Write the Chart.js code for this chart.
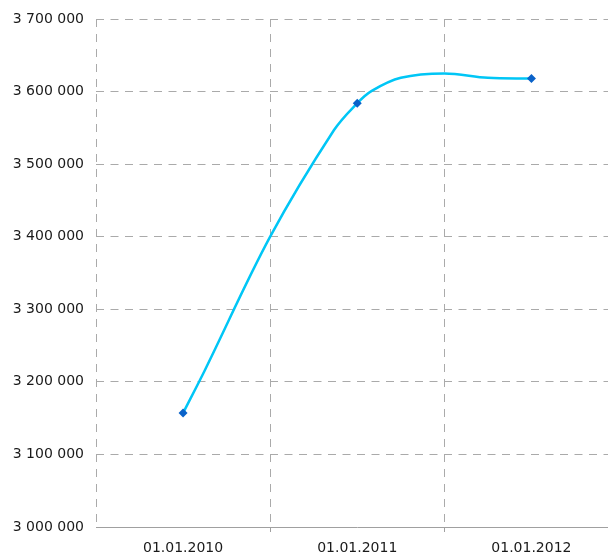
<!DOCTYPE html>
<html>
<head>
<meta charset="utf-8">
<script src="https://cdn.jsdelivr.net/npm/chart.js@4.4.0/dist/chart.umd.min.js"></script>
<style>
    html, body { margin: 0; padding: 0; background: #fff; overflow: hidden; }
    #wrap { width: 608px; height: 553px; overflow: hidden; }
</style>
</head>
<body>
<div id="wrap"><canvas id="chart" width="623" height="553"></canvas></div>
<script>
'use strict';

// Year markers (months counted from 01.01.2010)
const yearLabels = ['01.01.2010', '01.01.2011', '01.01.2012'];
const yearMonths = [0, 12, 24];
const yearValues = [3157000, 3584000, 3618000];

// Smoothed curve at its turning points
const curveMonths = [0, 1.5, 6, 10.4, 12, 13, 15, 18, 21, 24];
const curveValues = [3157000, 3216000, 3400000, 3547000, 3584000,
    3601000, 3619000, 3625000, 3619000, 3618000];

// Axis ticks
const xTickValues = [-6, 0, 6, 12, 18, 24, 30];
const yMin = 3000000;
const yMax = 3700000;
const yStep = 100000;

const gridColor = '#aaaaaa';
const textColor = '#1a1a1a';

function isBoundary(v) {
    return (v + 6) % 12 === 0;
}

function formatNumber(v) {
    return String(v).replace(/\B(?=(\d{3})+(?!\d))/g, ' ');
}

const ctx = document.getElementById('chart').getContext('2d');

new Chart(ctx, {
    type: 'line',
    data: {
        datasets: [{
            data: curveMonths.map((m, i) => ({ x: m, y: curveValues[i] })),
            borderColor: '#00c6f6',
            borderWidth: 2.5,
            pointRadius: 0,
            tension: 0.35,
            fill: false,
            order: 2
        }, {
            data: yearMonths.map((m, i) => ({ x: m, y: yearValues[i] })),
            showLine: false,
            pointStyle: 'rectRot',
            pointRadius: 4.5,
            pointBackgroundColor: '#0a62c9',
            pointBorderColor: '#0a62c9',
            pointBorderWidth: 0,
            order: 1
        }]
    },
    options: {
        responsive: false,
        animation: false,
        layout: {
            padding: { top: 19, right: 0, bottom: 0, left: 0 }
        },
        plugins: {
            legend: { display: false },
            tooltip: { enabled: false }
        },
        scales: {
            x: {
                type: 'linear',
                min: -6,
                max: 30,
                afterBuildTicks: function (scale) {
                    scale.ticks = xTickValues.map(v => ({ value: v }));
                },
                afterFit: function (scale) {
                    scale.height = 26;
                    scale.paddingLeft = 0;
                    scale.paddingRight = 0;
                },
                ticks: {
                    autoSkip: false,
                    maxRotation: 0,
                    padding: 8,
                    color: textColor,
                    font: { family: 'DejaVu Sans', size: 14 },
                    callback: function (value) {
                        const i = yearMonths.indexOf(value);
                        return i >= 0 ? yearLabels[i] : '';
                    }
                },
                grid: {
                    color: c => isBoundary(c.tick.value) ? gridColor : 'rgba(0,0,0,0)',
                    tickColor: c => (isBoundary(c.tick.value) && c.tick.value > -6) ? '#a0a0a0' : 'rgba(0,0,0,0)',
                    lineWidth: 1,
                    tickLength: 5
                },
                border: {
                    display: true,
                    color: '#a0a0a0',
                    width: 1,
                    dash: [8, 7]
                }
            },
            y: {
                min: yMin,
                max: yMax,
                afterFit: function (scale) {
                    scale.width = 96;
                    scale.paddingTop = 0;
                    scale.paddingBottom = 0;
                },
                ticks: {
                    stepSize: yStep,
                    padding: 12,
                    color: textColor,
                    font: { family: 'DejaVu Sans', size: 14 },
                    callback: function (value) {
                        return formatNumber(value);
                    }
                },
                grid: {
                    color: c => c.tick.value === yMin ? 'rgba(0,0,0,0)' : gridColor,
                    lineWidth: 1,
                    drawTicks: false
                },
                border: {
                    display: false,
                    dash: [8, 6.5]
                }
            }
        }
    }
});
</script>
</body>
</html>
